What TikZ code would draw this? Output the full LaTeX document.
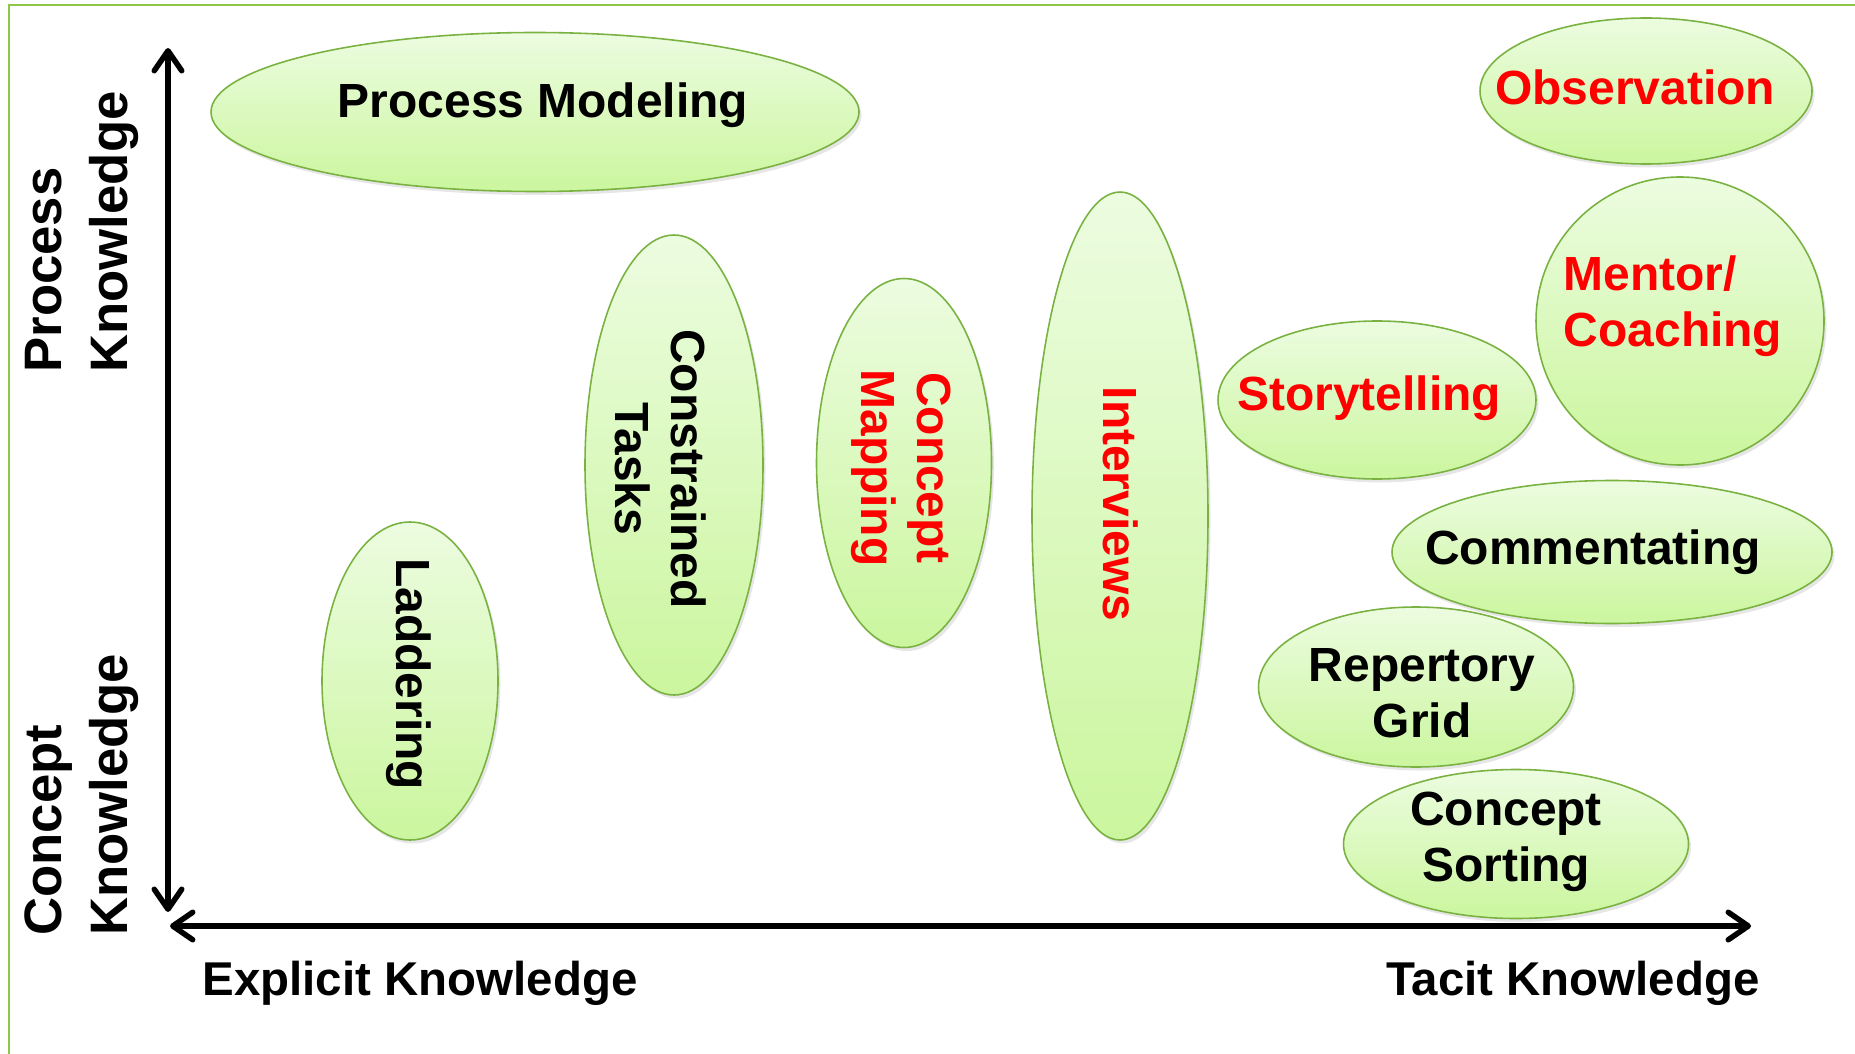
\documentclass[tikz,border=0pt]{standalone}
\usepackage{fontspec}
\setmainfont{Liberation Sans}
\usetikzlibrary{shapes.geometric,arrows.meta,shadows}
\definecolor{framegreen}{RGB}{141,198,72}
\definecolor{edgegreen}{RGB}{122,178,66}
\definecolor{topgreen}{RGB}{236,252,224}
\definecolor{botgreen}{RGB}{203,246,158}
\definecolor{labelred}{RGB}{255,0,0}
\newcommand{\vtext}[1]{\rotatebox{-90}{\begin{tabular}{@{}c@{}}#1\end{tabular}}}

\begin{document}
\begin{tikzpicture}[x=0.02cm, y=-0.02cm,
    blob/.style={ellipse, draw=edgegreen, line width=0.9pt, top color=topgreen, bottom color=botgreen,
      inner sep=0pt, drop shadow={opacity=0.2, shadow xshift=0.05cm, shadow yshift=-0.07cm}},
    wh/.style 2 args={minimum width=#1*0.02cm, minimum height=#2*0.02cm},
    tech/.style={inner sep=0pt, align=center, font=\fontsize{27.3}{32}\selectfont\bfseries},
    redtxt/.style={text=labelred},
    axis/.style={line width=0.11cm, {Straight Barb[length=0.4cm,width=0.55cm,round]}-{Straight Barb[length=0.4cm,width=0.55cm,round]}},
    axislabel/.style={font=\fontsize{27}{32}\selectfont\bfseries}]
  % page and green frame
  \useasboundingbox (0,0) rectangle (1855,1054);
  \draw[framegreen, line width=0.05cm] (9,1054) -- (9,5) -- (1855,5);

  % axes
  \coordinate (ytop) at (168,48);
  \coordinate (ybot) at (168,912);
  \coordinate (xleft) at (170,926);
  \coordinate (xright) at (1751,926);
  \draw[axis] (ytop) -- (ybot);
  \draw[axis] (xleft) -- (xright);

  % axis labels
  \node[axislabel, rotate=90, align=left, font=\fontsize{30}{37.5}\selectfont\bfseries] (proclab) at (82,232) {Process\\Knowledge};
  \node[axislabel, rotate=90, align=left, font=\fontsize{30}{37.5}\selectfont\bfseries] (conclab) at (82,795) {Concept\\Knowledge};
  \node[axislabel] (explab) at (420,983) {Explicit Knowledge};
  \node[axislabel] (taclab) at (1573,983) {Tacit Knowledge};

  % elicitation techniques (shapes)
  \node[blob, wh={648}{159}] (procmod) at (535,112) {};
  \node[blob, wh={332}{146}] (observ) at (1646,91) {};
  \node[blob, wh={288}{288}] (mentor) at (1680,321) {};
  \node[blob, wh={318}{158}] (story) at (1377,400) {};
  \node[blob, wh={440}{143}] (comment) at (1612,552) {};
  \node[blob, wh={315}{160}] (repgrid) at (1416,687) {};
  \node[blob, wh={345}{149}] (sorting) at (1516,844) {};
  \node[blob, wh={176}{648}] (interv) at (1120,516) {};
  \node[blob, wh={175}{369}] (cmap) at (904,463) {};
  \node[blob, wh={178}{460}] (ctasks) at (674,465) {};
  \node[blob, wh={176}{318}] (ladder) at (410,681) {};

  % technique names
  \node[tech] (procmod-t) at ([shift={(8,-7)}]procmod.center) {Process Modeling};
  \node[tech, redtxt] (observ-t) at ([shift={(-11,-4)}]observ.center) {Observation};
  \node[tech, redtxt, align=left] (mentor-t) at ([shift={(-7,-15)}]mentor.center) {Mentor/\\Coaching};
  \node[tech, redtxt] (story-t) at ([shift={(-8,-2)}]story.center) {Storytelling};
  \node[tech] (comment-t) at ([shift={(-19,0)}]comment.center) {Commentating};
  \node[tech] (repgrid-t) at ([shift={(6,6)}]repgrid.center) {Repertory\\Grid};
  \node[tech] (sorting-t) at ([shift={(-10,-2)}]sorting.center) {Concept\\Sorting};
  \node[tech, redtxt] (interv-t) at ([shift={(-5,-12)}]interv.center) {\vtext{Interviews}};
  \node[tech, redtxt] (cmap-t) at ([shift={(-3,5)}]cmap.center) {\vtext{Concept\\Mapping}};
  \node[tech] (ctasks-t) at ([shift={(-19,4)}]ctasks.center) {\vtext{Constrained\\Tasks}};
  \node[tech] (ladder-t) at ([shift={(-2,-7)}]ladder.center) {\vtext{Laddering}};
\end{tikzpicture}
\end{document}
